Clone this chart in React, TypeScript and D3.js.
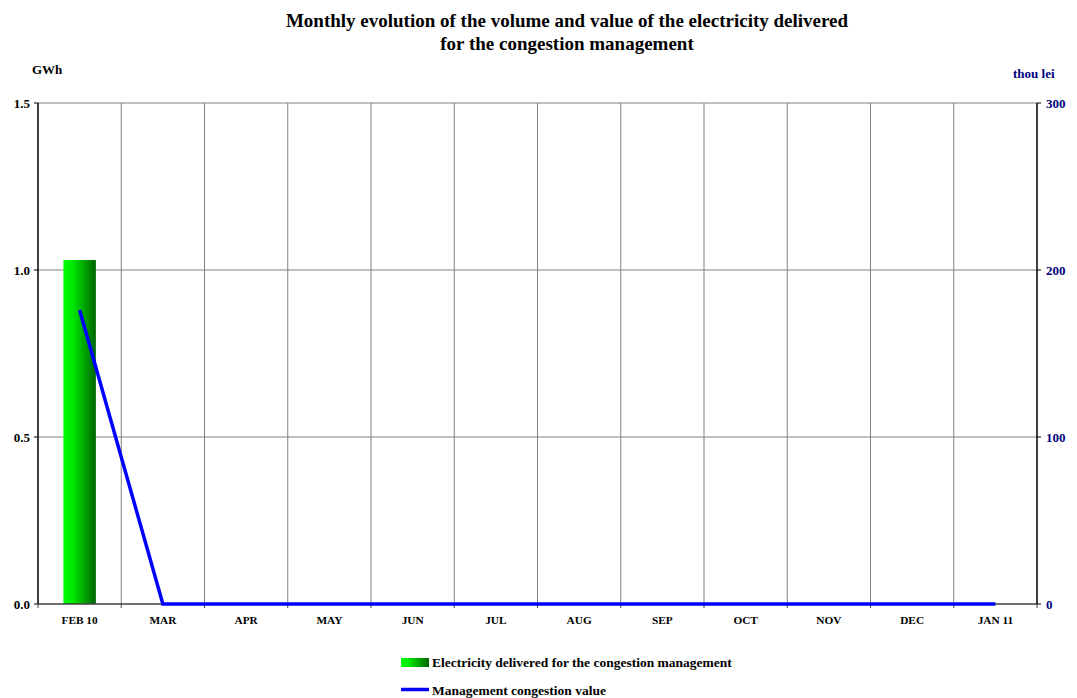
import React from "react";
import * as d3 from "d3";

const months = ["FEB 10", "MAR", "APR", "MAY", "JUN", "JUL", "AUG", "SEP", "OCT", "NOV", "DEC", "JAN 11"];
const volumeGWh = [1.03, null, null, null, null, null, null, null, null, null, null, null];
const valueThouLei = [176, 0, 0, 0, 0, 0, 0, 0, 0, 0, 0, 0];
const leftTicks = [0, 0.5, 1.0, 1.5];
const rightTicks = [0, 100, 200, 300];

const W = 1077;
const H = 698;
const M = { left: 38, right: 1037, top: 103, bottom: 604 };
const FONT = "'Times New Roman', 'Liberation Serif', serif";

export default function App() {
  const x = d3.scaleBand<string>().domain(months).range([M.left, M.right]).paddingInner(0).paddingOuter(0);
  const yL = d3.scaleLinear().domain([0, 1.5]).range([M.bottom, M.top]);
  const yR = d3.scaleLinear().domain([0, 300]).range([M.bottom, M.top]);
  const bw = x.bandwidth();
  const barW = bw * 0.39;

  const line = d3
    .line<number>()
    .x((_, i) => (x(months[i]) as number) + bw / 2)
    .y((d) => yR(d));

  const boundaries = months.slice(1).map((m) => x(m) as number);

  return (
    <svg width={W} height={H} style={{ position: "absolute", left: 0, top: 0, background: "#fff" }} fontFamily={FONT}>
      <defs>
        <linearGradient id="barGrad" x1="0" x2="1" y1="0" y2="0">
          <stop offset="0%" stopColor="#00ff00" />
          <stop offset="30%" stopColor="#00e600" />
          <stop offset="100%" stopColor="#006400" />
        </linearGradient>
      </defs>
      <rect x={0} y={0} width={W} height={H} fill="#fff" />

      <text x={567} y={27} textAnchor="middle" fontSize={19} fontWeight="bold" fill="#000">
        Monthly evolution of the volume and value of the electricity delivered
      </text>
      <text x={567} y={50} textAnchor="middle" fontSize={19} fontWeight="bold" fill="#000">
        for the congestion management
      </text>

      <text x={32} y={74} fontSize={13} fontWeight="bold" fill="#000">GWh</text>
      <text x={1013} y={78} textAnchor="start" fontSize={13} fontWeight="bold" fill="#000080">thou lei</text>

      {/* horizontal gridlines */}
      {leftTicks.slice(1).map((t) => (
        <line key={"h" + t} x1={M.left} x2={M.right} y1={yL(t)} y2={yL(t)} stroke="#808080" strokeWidth={1} />
      ))}
      {/* vertical gridlines between months */}
      {boundaries.map((b, i) => (
        <line key={"v" + i} x1={b} x2={b} y1={M.top} y2={M.bottom} stroke="#808080" strokeWidth={1} />
      ))}

      {/* bars */}
      {volumeGWh.map((v, i) =>
        v == null ? null : (
          <rect
            key={"b" + i}
            x={(x(months[i]) as number) + bw / 2 - barW / 2}
            y={yL(v)}
            width={barW}
            height={M.bottom - yL(v)}
            fill="url(#barGrad)"
          />
        )
      )}

      {/* axes */}
      <line x1={M.left} x2={M.right} y1={M.bottom} y2={M.bottom} stroke="#404040" strokeWidth={1.5} />
      <line x1={M.left} x2={M.left} y1={M.top} y2={M.bottom} stroke="#000" strokeWidth={1.5} />
      <line x1={M.right} x2={M.right} y1={M.top} y2={M.bottom} stroke="#000" strokeWidth={1.5} />

      {leftTicks.map((t) => (
        <g key={"l" + t}>
          <line x1={M.left - 4} x2={M.left} y1={yL(t)} y2={yL(t)} stroke="#000" />
          <text x={M.left - 8} y={yL(t) + 4.5} textAnchor="end" fontSize={13} fontWeight="bold" fill="#000">
            {t.toFixed(1)}
          </text>
        </g>
      ))}
      {rightTicks.map((t) => (
        <g key={"r" + t}>
          <line x1={M.right} x2={M.right + 4} y1={yR(t)} y2={yR(t)} stroke="#000" />
          <text x={M.right + 9} y={yR(t) + 4.5} textAnchor="start" fontSize={13} fontWeight="bold" fill="#000080">
            {t}
          </text>
        </g>
      ))}
      {[M.left, ...boundaries, M.right].map((b, i) => (
        <line key={"xt" + i} x1={b} x2={b} y1={M.bottom} y2={M.bottom + 4} stroke="#404040" />
      ))}
      {months.map((m) => (
        <text key={m} x={(x(m) as number) + bw / 2} y={M.bottom + 20} textAnchor="middle" fontSize={11.3} fontWeight="bold" fill="#000">
          {m}
        </text>
      ))}

      {/* value line */}
      <path d={line(valueThouLei) || ""} fill="none" stroke="#0000ff" strokeWidth={3.5} />

      {/* legend */}
      <rect x={401} y={658} width={28} height={9} fill="url(#barGrad)" />
      <text x={432} y={667} fontSize={13.5} fontWeight="bold" fill="#000">
        Electricity delivered for the congestion management
      </text>
      <line x1={401} x2={429} y1={689.5} y2={689.5} stroke="#0000ff" strokeWidth={3.5} />
      <text x={432} y={695} fontSize={13.5} fontWeight="bold" fill="#000">
        Management congestion value
      </text>
    </svg>
  );
}
